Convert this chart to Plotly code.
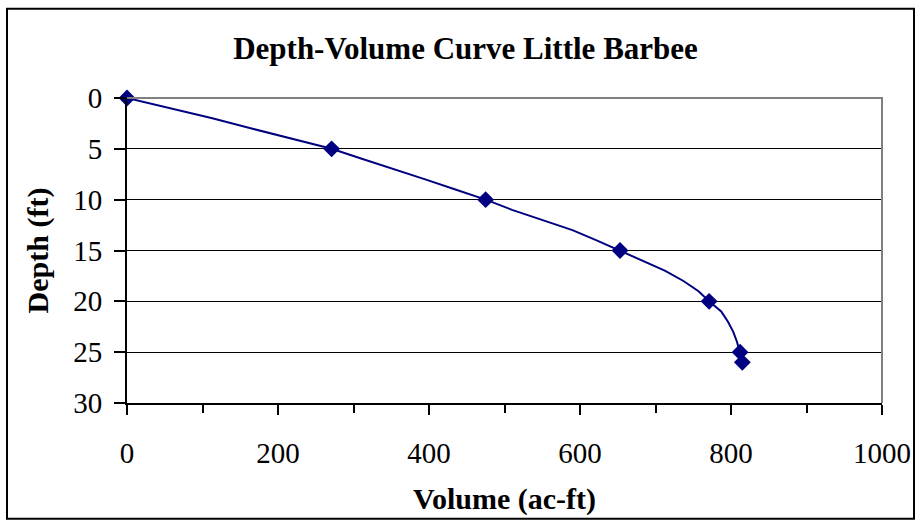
import plotly.graph_objects as go

# Dense depth-volume curve
depth_ft = [0, 1, 2, 3, 4, 5, 6, 7, 8, 9, 10, 11, 12, 13, 14, 15, 16, 17, 18, 19, 20,
            21, 22, 23, 24, 25, 26]
volume_acft = [0, 58, 113, 165, 218, 271, 312, 355, 395, 435, 475, 510, 550, 590, 622,
               653, 683, 713, 737, 757, 771, 787, 796, 803, 808, 812, 815]

# Depths that carry a marker
marker_depth = [0, 5, 10, 15, 20, 25, 26]
marker_volume = [volume_acft[depth_ft.index(d)] for d in marker_depth]

title_text = "Depth-Volume Curve Little Barbee"
x_title = "Volume (ac-ft)"
y_title = "Depth (ft)"
x_ticks = [0, 200, 400, 600, 800, 1000]
y_ticks = [0, 5, 10, 15, 20, 25, 30]

W, H = 917, 523
L, R, T, B = 127, 882, 97.5, 403
pw, ph = R - L, B - T

def px(x):
    return (x - L) / pw

def py(y):
    return (B - y) / ph

FONT = "Liberation Serif, Times New Roman, serif"
NAVY = "#000080"

fig = go.Figure()
fig.add_trace(go.Scatter(x=volume_acft, y=depth_ft, mode="lines",
                         line=dict(color=NAVY, width=2), hoverinfo="skip",
                         showlegend=False))
fig.add_trace(go.Scatter(x=marker_volume, y=marker_depth, mode="markers",
                         marker=dict(symbol="diamond", size=13, color=NAVY,
                                     line=dict(width=0)),
                         showlegend=False, cliponaxis=False))

fig.update_layout(
    width=W, height=H,
    margin=dict(l=L, r=W - R, t=T, b=H - B, pad=0, autoexpand=False),
    paper_bgcolor="white", plot_bgcolor="white",
    font=dict(family=FONT, color="black", size=29),
    title=dict(text="<b>%s</b>" % title_text, x=465.5 / W, xanchor="center",
               y=1 - 48 / H, yanchor="middle", font=dict(size=31, family=FONT)),
    showlegend=False,
)

fig.update_xaxes(
    range=[0, 1000], tickvals=x_ticks, ticktext=[str(v) for v in x_ticks],
    showgrid=False, zeroline=False, automargin=False,
    showline=True, linecolor="black", linewidth=2,
    ticks="outside", ticklen=10, tickwidth=1.5, tickcolor="black",
    ticklabelstandoff=13,
    tickfont=dict(size=29, family=FONT),
    minor=dict(dtick=100, ticks="outside", ticklen=8, tickwidth=1.5,
               tickcolor="black", showgrid=False),
    title=dict(text="<b>%s</b>" % x_title, standoff=20,
               font=dict(size=30, family=FONT)),
)
fig.update_yaxes(
    range=[30, 0], tickvals=y_ticks, ticktext=[str(v) for v in y_ticks],
    showgrid=True, gridcolor="black", gridwidth=1, zeroline=False, automargin=False,
    showline=True, linecolor="black", linewidth=2,
    ticks="outside", ticklen=11, tickwidth=1.5, tickcolor="black",
    ticklabelstandoff=6,
    tickfont=dict(size=29, family=FONT),
    title=dict(text="<b>%s</b>" % y_title, standoff=16,
               font=dict(size=30, family=FONT)),
)

# gray plot-area border on top and right
fig.add_shape(type="path", xref="paper", yref="paper",
              path="M 0,1 L 1,1 L 1,0",
              line=dict(color="#808080", width=2), layer="above")
# outer chart border
fig.add_shape(type="rect", xref="paper", yref="paper",
              x0=px(7), x1=px(914), y0=py(519), y1=py(8),
              line=dict(color="black", width=2), layer="above")

fig.write_html("out.html")
